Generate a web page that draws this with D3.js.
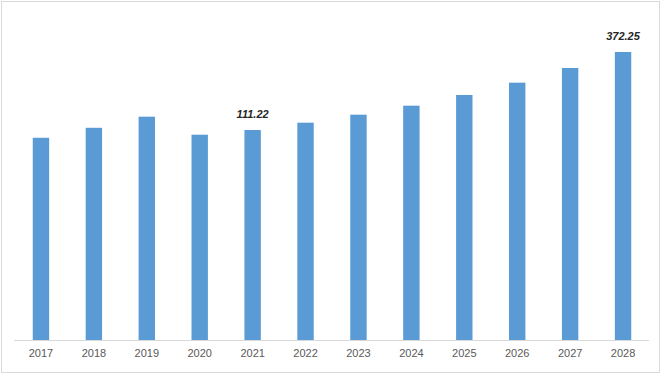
<!DOCTYPE html>
<html>
<head>
<meta charset="utf-8">
<script src="https://cdn.jsdelivr.net/npm/d3@7"></script>
<style>
  body { margin: 0; background: #fff; }
</style>
</head>
<body>
<script>
const width = 665;
const height = 380;

// values; the value axis does not start at zero
const years = ["2017", "2018", "2019", "2020", "2021", "2022", "2023", "2024", "2025", "2026", "2027", "2028"];
const values = [85.2, 118.6, 155.8, 95.5, 111.22, 135.7, 162.5, 192.6, 228.4, 269.6, 318.7, 372.25];
const labelledYears = ["2021", "2028"];
const axisMin = -591.5;

const svg = d3.select("body").append("svg")
    .attr("width", width)
    .attr("height", height);

// outer frame
svg.append("rect")
    .attr("x", 1.5).attr("y", 1.5)
    .attr("width", 658).attr("height", 371)
    .attr("fill", "white")
    .attr("stroke", "#d9d9d9");

const x = d3.scaleBand()
    .domain(years)
    .range([14.5, 649.5])
    .paddingInner(0.69)
    .paddingOuter(0.345);

const y = d3.scaleLinear()
    .domain([axisMin, d3.max(values)])
    .range([340, 52]);

svg.append("g")
    .selectAll("rect")
    .data(years)
    .join("rect")
    .attr("x", d => x(d))
    .attr("y", (d, i) => y(values[i]))
    .attr("width", x.bandwidth())
    .attr("height", (d, i) => y(axisMin) - y(values[i]))
    .attr("fill", "#5b9bd5");

// category axis
const xAxis = svg.append("g")
    .attr("transform", `translate(0, ${y(axisMin) + 0.5})`)
    .call(d3.axisBottom(x).tickSize(0).tickPadding(9));
xAxis.select(".domain").attr("stroke", "#d9d9d9").attr("d", "M14,0H649");
xAxis.selectAll("text")
    .style("font-family", "'Liberation Sans', Arial, sans-serif")
    .style("font-size", "11px")
    .attr("fill", "#595959");

// data labels
svg.append("g")
    .selectAll("text")
    .data(years.filter(d => labelledYears.includes(d)))
    .join("text")
    .attr("x", d => x(d) + x.bandwidth() / 2)
    .attr("y", d => y(values[years.indexOf(d)]) - 12)
    .attr("text-anchor", "middle")
    .style("font-family", "'Liberation Sans', Arial, sans-serif")
    .style("font-size", "11px")
    .style("font-weight", "bold")
    .style("font-style", "italic")
    .attr("fill", "#262626")
    .text(d => values[years.indexOf(d)].toFixed(2));
</script>
</body>
</html>
